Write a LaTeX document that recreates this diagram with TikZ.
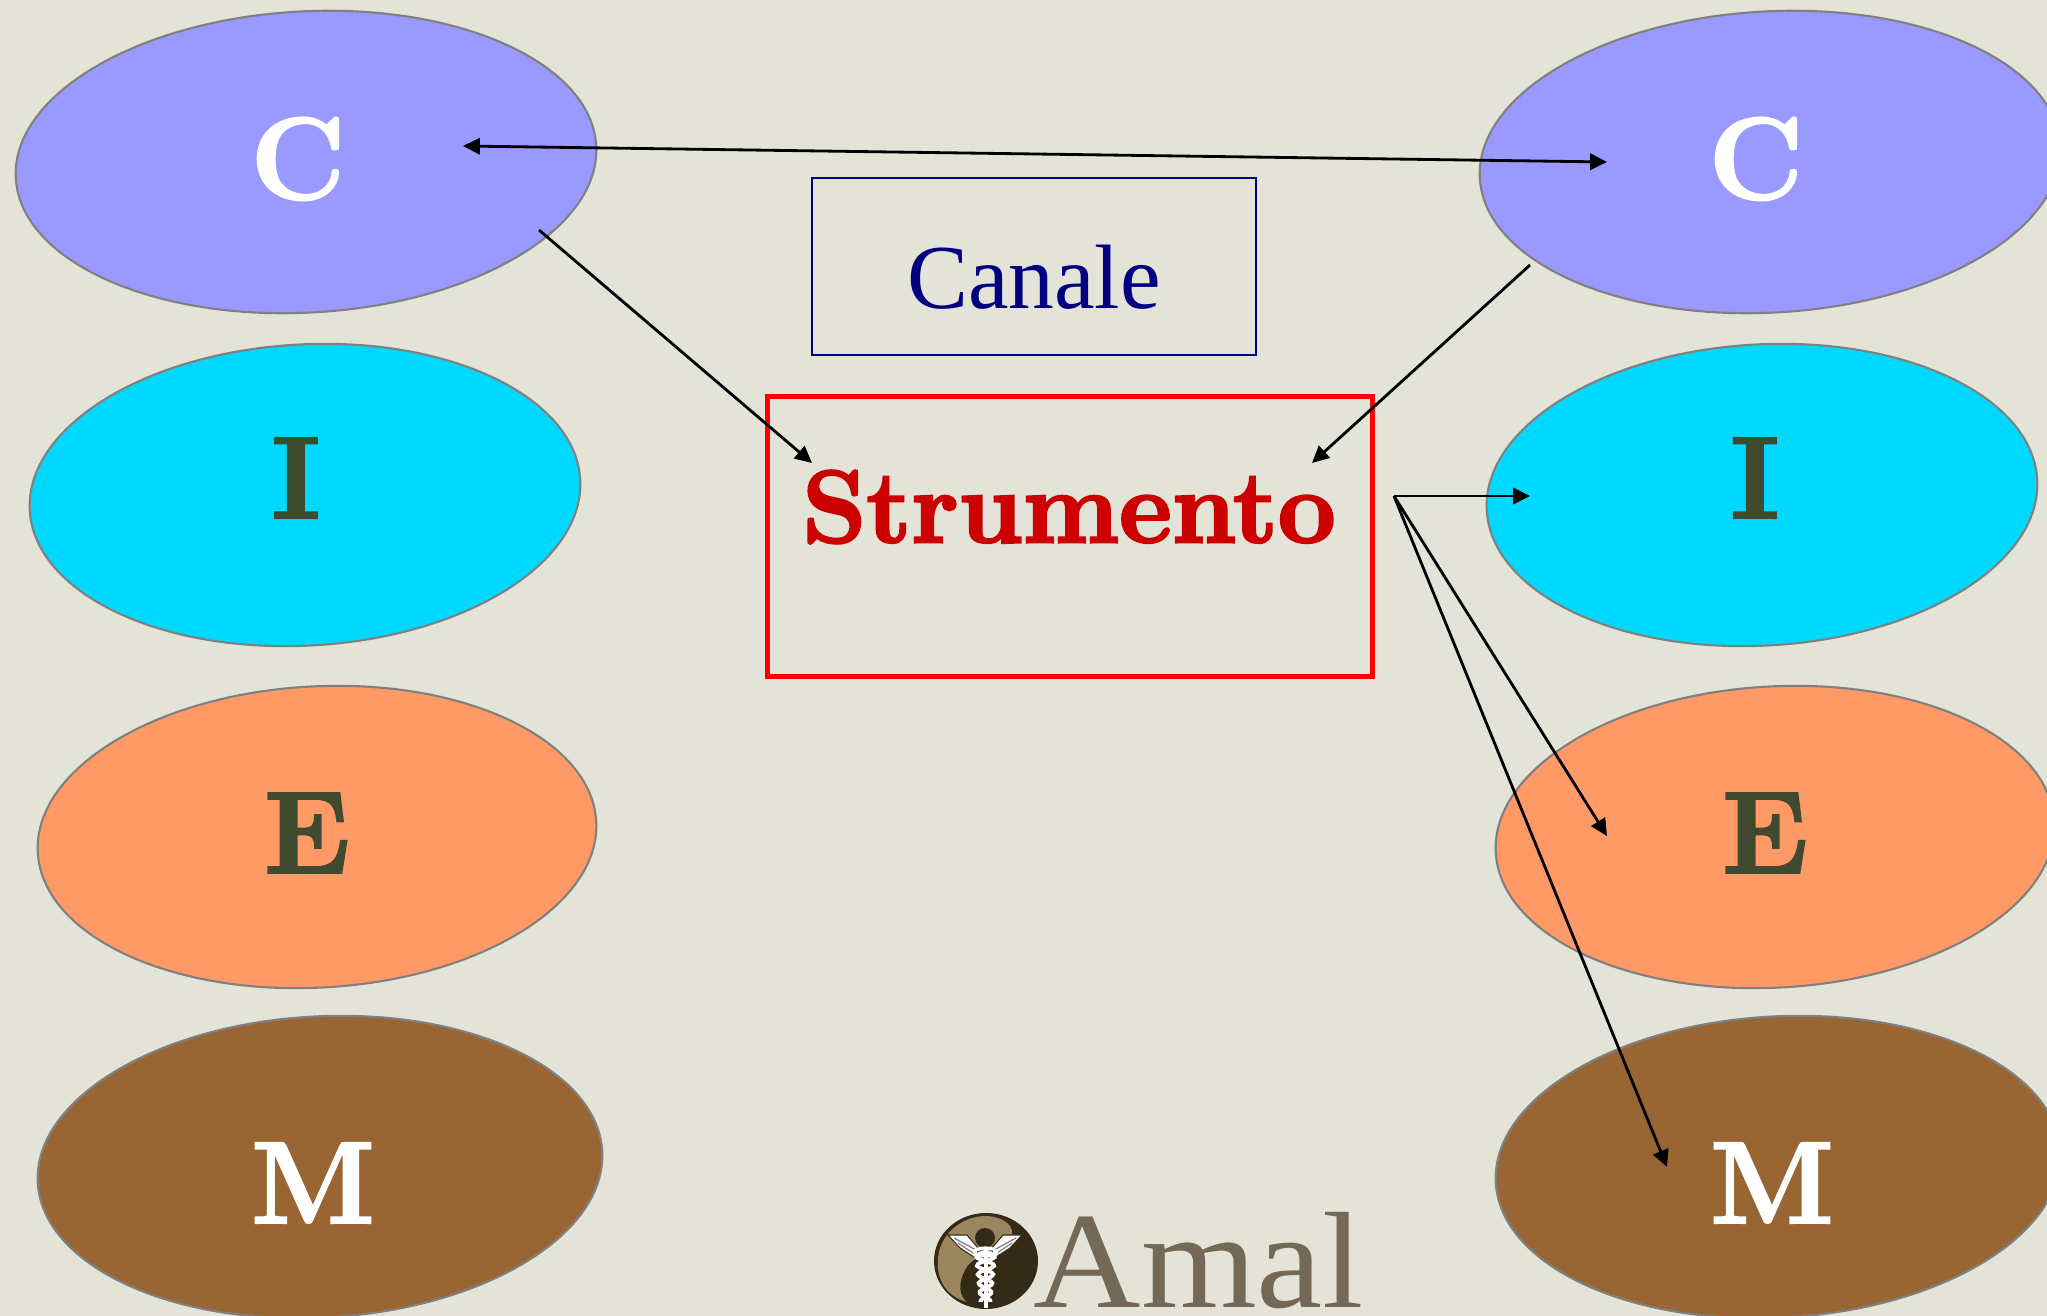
\documentclass[tikz,border=0pt]{standalone}
\usepackage{fontspec}
\newfontfamily\timesfont{Liberation Serif}
\usetikzlibrary{arrows.meta,shapes.geometric}
\definecolor{paper}{HTML}{E3E3D7}
\definecolor{lilac}{HTML}{9999FF}
\definecolor{sky}{HTML}{00D9FF}
\definecolor{peach}{HTML}{FF9966}
\definecolor{earth}{HTML}{996633}
\definecolor{moss}{HTML}{404A2E}
\definecolor{taupe}{HTML}{746856}
\definecolor{logodark}{HTML}{342A18}
\definecolor{logotan}{HTML}{9C8660}
\newcommand{\heavytext}[1]{\special{pdf:code 2 Tr 0.75 w}#1\special{pdf:code 0 Tr}}

\begin{document}
\begin{tikzpicture}[x=0.01cm,y=-0.01cm]
    \tikzset{oval/.style= {draw=gray, ellipse, line width=0.6pt
    , inner sep=0pt
    , rotate=3.2
    , minimum height=3.01cm
      }
    , letter/.style= {font=\fontsize{33}{33}\selectfont\bfseries}
    , link/.style= {draw, line width=0.8pt, >={Triangle[length=4.8pt,width=4.6pt]}}
    , wing/.style= {fill=white, draw=logodark, line width=0.3pt}
    , feather/.style= {draw=gray, line width=0.35pt}
    , snake/.style= {draw=white, line width=1.1pt}
    }

\useasboundingbox (0,0) rectangle (2047,1316);
\fill[paper] (0,0) rectangle (2047,1316);

% left column
\node [oval, fill=lilac, minimum width=5.81cm] (cLeft) at (306,162) {};
\node [oval, fill=sky, minimum width=5.51cm] (iLeft) at (305,495) {};
\node [oval, fill=peach, minimum width=5.59cm] (eLeft) at (317,837) {};
\node [oval, fill=earth, minimum width=5.65cm] (mLeft) at (320,1167) {};
\node [letter, white] (cLeftText) at (298,159) {\heavytext{C}};
\node [letter, moss] (iLeftText) at (296,478) {\heavytext{I}};
\node [letter, moss] (eLeftText) at (307,833) {\heavytext{E}};
\node [letter, white] (mLeftText) at (313,1183) {\heavytext{M}};

% right column
\node [oval, fill=lilac, minimum width=5.81cm] (cRight) at (1770,162) {};
\node [oval, fill=sky, minimum width=5.51cm] (iRight) at (1762,495) {};
\node [oval, fill=peach, minimum width=5.59cm] (eRight) at (1775,837) {};
\node [oval, fill=earth, minimum width=5.65cm] (mRight) at (1778,1167) {};
\node [letter, white] (cRightText) at (1756,159) {\heavytext{C}};
\node [letter, moss] (iRightText) at (1755,478) {\heavytext{I}};
\node [letter, moss] (eRightText) at (1765,833) {\heavytext{E}};
\node [letter, white] (mRightText) at (1772,1183) {\heavytext{M}};

% centre boxes
\node [draw=blue!50!black, line width=0.5pt, minimum width=4.44cm, minimum height=1.77cm] (canaleBox) at (1034,266.5) {};
\node [text={rgb,255:red,0;green,0;blue,128}, font=\fontsize{26}{26}\selectfont\timesfont] (canale) at (1034,277) {Canale};
\node [draw=red, line width=1.4pt, minimum width=6.04cm, minimum height=2.79cm] (strumentoBox) at (1070,536.5) {};
\node [text={rgb,255:red,204;green,0;blue,0}, font=\fontsize{29.2}{29.2}\selectfont\bfseries] (strumento) at (1069,507) {\heavytext{Strumento}};

% arrow ends
\coordinate (cLeftEnd) at (463,146);
\coordinate (cRightEnd) at (1607,162);
\coordinate (cLeftOut) at (539,230);
\coordinate (cRightOut) at (1530,265);
\coordinate (strLeftIn) at (812,463);
\coordinate (strRightIn) at (1312,463);
\coordinate (strOut) at (1394,496);
\coordinate (iIn) at (1530,496);
\coordinate (eIn) at (1607,836);
\coordinate (mIn) at (1667,1167);

\path[link, <->] (cLeftEnd) -- (cRightEnd);
\path[link, ->] (cLeftOut) -- (strLeftIn);
\path[link, ->] (cRightOut) -- (strRightIn);
\path[link, ->] (strOut) -- (iIn);
\path[link, ->] (strOut) -- (eIn);
\path[link, ->] (strOut) -- (mIn);

% logo
\fill[logodark] (986,1261) ellipse (52 and 48);
\fill[logotan] (986,1216) .. controls (1004,1217) and (1016,1226) .. (1011,1238)
  .. controls (1005,1254) and (975,1250) .. (965,1270)
  .. controls (957,1285) and (960,1297) .. (967,1302)
  .. controls (945,1296) and (936,1278) .. (938,1258)
  .. controls (940,1234) and (962,1216) .. (986,1216) -- cycle;
\path[wing] (948,1235) -- (967,1235) -- (978,1248) -- (977,1259) -- (960,1248) -- cycle;
\path[wing] (1022,1235) -- (1003,1235) -- (992,1248) -- (993,1259) -- (1010,1248) -- cycle;
\path[feather] (954,1238) -- (976,1250) (958,1243) -- (976,1255);
\path[feather] (1016,1238) -- (994,1250) (1012,1243) -- (994,1255);
\fill[logodark] (985,1238) ellipse (10 and 10);
\fill[white] (983.5,1248) rectangle (987.5,1308);
\draw[white, line width=0.9pt] (985.5,1252) ellipse (11 and 4);
\path[snake] plot[smooth, domain=1252:1302, samples=30] ({985.5+(10-(\x-1252)*0.1)*sin((\x-1252)*20)},\x);
\path[snake] plot[smooth, domain=1252:1302, samples=30] ({985.5-(10-(\x-1252)*0.1)*sin((\x-1252)*20)},\x);
\node [text=taupe, font=\fontsize{39}{39}\selectfont\timesfont, anchor=base west, inner sep=0pt] (amal) at (1033,1308) {\scalebox{1.085}[1]{Amal}};
\end{tikzpicture}
\end{document}
